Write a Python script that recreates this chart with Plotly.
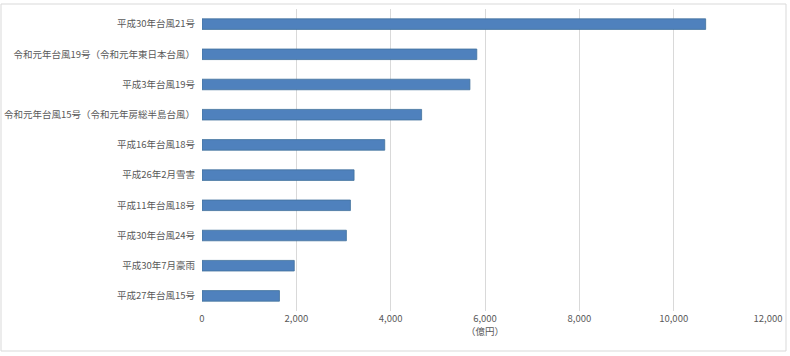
import plotly.graph_objects as go

categories = [
    "平成30年台風21号",
    "令和元年台風19号（令和元年東日本台風）",
    "平成3年台風19号",
    "令和元年台風15号（令和元年房総半島台風）",
    "平成16年台風18号",
    "平成26年2月雪害",
    "平成11年台風18号",
    "平成30年台風24号",
    "平成30年7月豪雨",
    "平成27年台風15号",
]
values = [10678, 5826, 5680, 4656, 3874, 3224, 3147, 3061, 1956, 1642]
x_ticks = [0, 2000, 4000, 6000, 8000, 10000, 12000]
x_tick_labels = ["0", "2,000", "4,000", "6,000", "8,000", "10,000", "12,000"]
x_title = "（億円）"

font_family = "Noto Sans CJK JP, Noto Sans, sans-serif"

fig = go.Figure(
    go.Bar(
        y=categories,
        x=values,
        orientation="h",
        marker=dict(color="#4F81BD", line=dict(color="#41719C", width=0.8)),
        hoverinfo="x+y",
    )
)

fig.update_layout(
    width=790,
    height=356,
    margin=dict(l=202, r=22, t=9, b=45, autoexpand=False),
    paper_bgcolor="white",
    plot_bgcolor="white",
    bargap=0.65,
    showlegend=False,
    font=dict(family=font_family, size=9.5, color="#595959"),
)

fig.update_xaxes(
    range=[0, 12000],
    tickvals=x_ticks,
    ticktext=x_tick_labels,
    showgrid=True,
    gridcolor="#D9D9D9",
    gridwidth=1,
    zeroline=False,
    showline=False,
    ticks="",
    automargin=False,
    tickfont=dict(size=9.5, color="#595959"),
    title=dict(text=x_title, font=dict(size=9.5, color="#595959"), standoff=2),
)

fig.update_yaxes(
    autorange="reversed",
    showgrid=False,
    zeroline=False,
    showline=False,
    ticks="",
    automargin=False,
    ticklabelstandoff=6,
    tickfont=dict(size=9.5, color="#595959"),
)

# light outer chart border
fig.add_shape(
    type="rect",
    xref="paper",
    yref="paper",
    x0=-201 / 566,
    x1=584 / 566,
    y0=-40 / 302,
    y1=307 / 302,
    line=dict(color="#D9D9D9", width=1),
    fillcolor="rgba(0,0,0,0)",
    layer="below",
)

fig.write_html(
    "out.html",
    config={"displayModeBar": False},
    post_script="document.body.style.margin='0';document.body.style.overflow='hidden';",
)
